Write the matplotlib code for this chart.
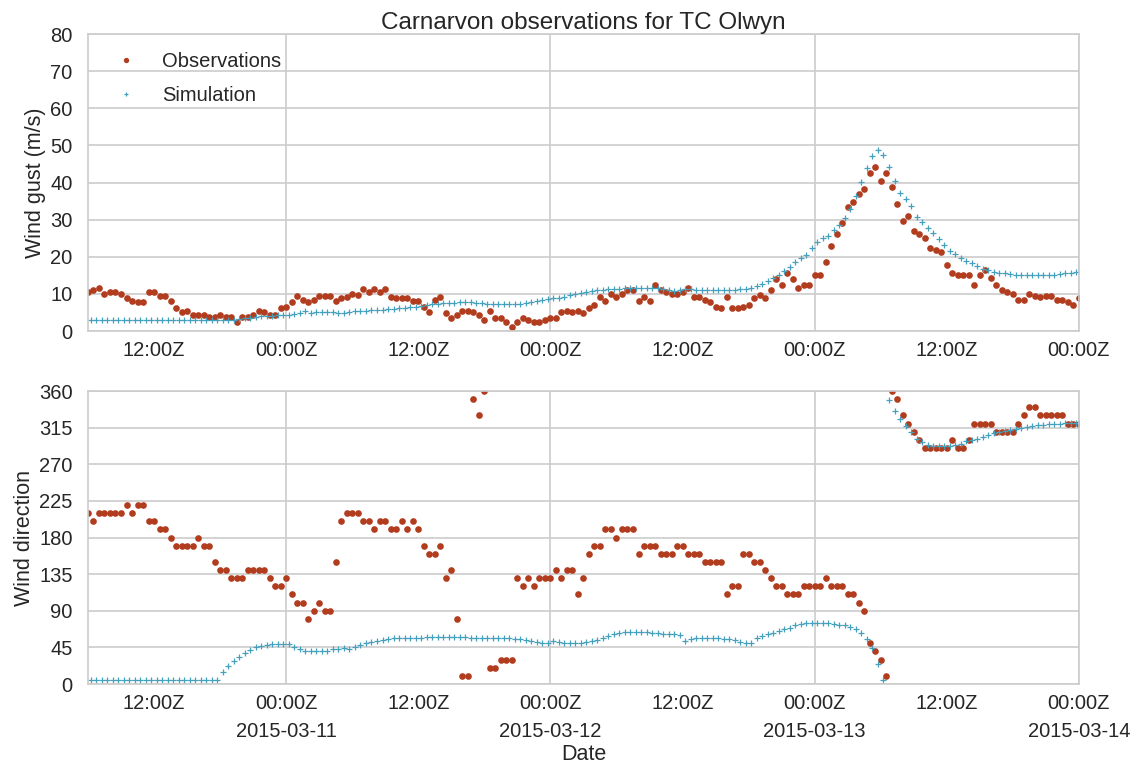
import matplotlib
matplotlib.use("Agg")
import matplotlib.pyplot as plt
import matplotlib.dates as mdates
import pandas as pd

# ---- data -------------------------------------------------------------
obs_start = "2015-03-10 06:00"
sim_start = "2015-03-10 06:15"
x_end = "2015-03-14 00:00"

obs_gust = [
    10.6, 11.0, 11.7, 10.1, 10.6, 10.6, 10.1, 8.9, 8.2, 7.7, 7.7, 10.6, 10.6, 9.4, 9.4, 8.2,
    6.1, 5.0, 5.5, 4.4, 4.4, 4.4, 3.8, 3.8, 4.4, 3.8, 3.8, 2.4, 3.8, 3.8, 4.4, 5.5, 5.0, 4.4,
    4.4, 6.1, 6.4, 7.7, 9.4, 8.4, 7.7, 8.4, 9.4, 9.4, 9.4, 8.2,
    9.0, 9.2, 10.0, 9.8, 11.2, 10.6, 11.2, 10.6, 11.2, 9.2, 8.9, 8.9, 8.9, 8.2, 8.2, 6.4,
    5.2, 8.4, 9.2, 4.9, 3.6, 4.3, 5.4, 5.4, 5.2, 4.3, 3.1, 5.4, 3.6, 3.6, 2.4, 1.0, 2.4, 3.6,
    3.1, 2.4, 2.4, 3.1, 3.6, 3.6, 5.2, 5.4, 5.2, 5.4,
    4.9, 6.1, 7.0, 9.1, 8.2, 10.0, 9.2, 10.0, 11.0, 11.0, 8.2, 9.2, 8.2, 12.3, 11.0, 10.6,
    10.0, 10.0, 10.6, 11.7, 9.2, 9.2, 8.4, 7.7, 6.4, 6.1, 9.2, 6.1, 6.1, 6.4, 7.0, 8.8, 9.8,
    8.8, 11.0, 14.0,
    12.4, 15.7, 13.9, 11.6, 12.4, 12.5, 15.1, 15.1, 18.5, 23.0, 26.2, 29.1, 33.5, 34.8, 36.9,
    38.2, 42.5, 44.1, 40.3, 42.7, 38.7, 34.2, 29.6, 30.9, 26.9, 26.2, 25.1, 22.4, 21.8, 21.2,
    17.7, 15.7, 15.1, 15.1, 15.1, 12.5, 15.1, 16.4, 14.4, 12.5, 11.0, 10.5, 10.0, 8.3, 8.3,
    10.0, 9.4, 9.2, 9.4, 9.4, 8.3, 8.3, 7.7, 7.1, 8.9,
]

sim_gust = [
    3.1, 3.1, 3.1, 3.1, 3.1, 3.1, 3.1, 3.1, 3.1, 3.1, 3.1, 3.1, 3.1, 3.1, 3.1, 3.1, 3.1, 3.1,
    3.1, 3.1, 3.1, 3.1, 3.1, 3.1, 3.1, 3.1, 3.1,
    3.3, 3.6, 3.6, 3.8, 4.0, 4.0, 4.0, 4.2, 4.2, 4.3, 4.7, 4.9, 5.4, 4.9, 5.0, 5.0, 5.0, 5.2,
    4.9, 4.8, 5.2, 5.4, 5.5, 5.5, 5.6, 5.7, 5.8, 5.9, 6.0, 6.1, 6.3, 6.5, 6.6, 6.8, 7.0, 7.2,
    7.4, 7.5, 7.6, 7.6, 7.7, 7.7, 7.7, 7.6, 7.5, 7.4, 7.3, 7.2, 7.2, 7.2, 7.3, 7.4, 7.5, 7.7,
    8.0, 8.3, 8.6, 8.9, 9.0, 9.3, 9.6, 9.9, 10.2,
    10.5, 10.8, 11.0, 11.0, 11.2, 11.3, 11.4, 11.5, 11.5, 11.6, 11.7, 11.7, 11.7, 11.6, 11.3,
    11.0, 10.8, 11.0, 11.3, 11.3, 11.0, 11.0, 11.0, 11.0, 11.0, 11.0, 11.0, 11.1, 11.2, 11.4,
    11.6, 12.0, 12.8, 13.6, 14.4, 15.2,
    16.2, 17.3, 18.5, 19.6, 20.5, 22.5, 23.9, 25.0, 25.7, 27.1, 28.6, 30.5, 33.0, 36.3, 40.1,
    43.9, 47.1, 48.7, 47.5, 44.1, 40.5, 37.1, 35.5, 33.6, 30.7, 29.4, 27.8, 26.4, 24.8, 23.3,
    21.6, 20.7, 19.8, 18.9, 18.2, 17.4, 16.8, 16.4, 16.0, 15.7, 15.5, 15.3, 15.2, 15.1, 15.1,
    15.1, 15.1, 15.1, 15.1, 15.2, 15.3, 15.5, 15.7, 16.0,
]

obs_dir = [
    210, 200, 210, 210, 210, 210, 210, 220, 210, 220, 220, 200, 200, 190, 190, 180, 170, 170,
    170, 170, 180, 170, 170, 150, 140, 140, 130, 130, 130, 140, 140, 140, 140, 130, 120, 120,
    130, 110, 100, 100, 80, 90, 100, 90, 90, 150,
    200, 210, 210, 210, 200, 200, 190, 200, 200, 190, 190, 200, 190, 200, 190, 170, 160, 160,
    170, 130, 140, 80, 10, 10, 350, 330, 360, 20, 20, 30, 30, 30, 130, 120, 130, 120, 130, 130,
    130, 140, 130, 140, 140, 110,
    130, 160, 170, 170, 190, 190, 180, 190, 190, 190, 160, 170, 170, 170, 160, 160, 160, 170,
    170, 160, 160, 160, 150, 150, 150, 150, 110, 120, 120, 160, 160, 150, 150, 140, 130, 120,
    120, 110, 110, 110, 120, 120, 120, 120, 130, 120, 120, 120, 110, 110, 100, 90, 50, 40, 30,
    10, 360, 350, 330, 320, 310, 300, 290, 290, 290, 290, 290, 300, 290, 290, 300, 320, 320,
    320, 320, 310, 310, 310, 310, 320, 330, 340, 340, 330, 330, 330, 330, 330, 320, 320, 320,
]

sim_dir = [
    5, 5, 5, 5, 5, 5, 5, 5, 5, 5, 5, 5, 5, 5, 5, 5, 5, 5, 5, 5, 5, 5, 5, 5,
    15, 22, 28, 33, 38, 42, 45, 47, 48, 49, 49, 49, 49, 45, 43, 40, 41, 41, 41, 41, 43,
    43, 44, 43, 46, 48, 50, 52, 53, 54, 55, 56, 57, 57, 57, 57, 57, 58, 58, 58, 58, 58, 58,
    58, 58, 57, 57, 57, 57, 56, 56, 56, 56, 55, 55, 54, 53, 52, 51, 50, 53, 52, 51, 50, 50, 50,
    52, 53, 54, 56, 59, 61, 63, 64, 64, 64, 64, 64, 63, 63, 62, 62, 61, 60, 53, 55, 56, 57,
    57, 57, 56, 55, 55, 54, 52, 51, 50, 57, 59, 61, 63, 65,
    67, 69, 72, 74, 75, 75, 75, 75, 75, 74, 73, 72, 70, 67, 63, 55, 44, 25, 5, 349, 336, 326,
    317, 310, 301, 297, 294, 292, 292, 292, 292, 294, 295, 298, 300, 301, 304, 306, 308, 310,
    311, 312, 313, 315, 316, 317, 318, 318, 319, 320, 320, 321, 321, 321,
]

gust_ticks = [0, 10, 20, 30, 40, 50, 60, 70, 80]
dir_ticks = [0, 45, 90, 135, 180, 225, 270, 315, 360]

obs_time = pd.date_range(obs_start, periods=len(obs_gust), freq="30min")
sim_time = pd.date_range(sim_start, periods=len(sim_gust), freq="30min")

# ---- style ------------------------------------------------------------
plt.rcParams["font.family"] = ["Liberation Sans", "DejaVu Sans"]
plt.rcParams["text.color"] = ".15"
plt.rcParams["axes.labelcolor"] = ".15"
plt.rcParams["xtick.color"] = ".15"
plt.rcParams["ytick.color"] = ".15"

OBS_C = "#b23c1e"
SIM_C = "#45a0bd"

fig = plt.figure(figsize=(11.35, 7.67), dpi=100)
ax1 = fig.add_axes([0.0775, 0.5684, 0.8731, 0.3872])
ax2 = fig.add_axes([0.0775, 0.1082, 0.8731, 0.382])

for ax in (ax1, ax2):
    ax.set_facecolor("white")
    for sp in ax.spines.values():
        sp.set_color(".8")
        sp.set_linewidth(1.2)
    ax.set_axisbelow(True)
    ax.grid(True, which="major", color=".8", linewidth=1.2)
    ax.grid(False, which="minor")
    ax.tick_params(axis="both", which="both", length=0, labelsize=14.5)
    ax.tick_params(axis="x", which="both", pad=7)
    ax.tick_params(axis="y", pad=11)
    ax.xaxis.set_major_locator(mdates.DayLocator())
    ax.xaxis.set_minor_locator(mdates.HourLocator(byhour=[12]))
    ax.xaxis.set_minor_formatter(mdates.DateFormatter("%H:%MZ"))
    ax.set_xlim(pd.Timestamp(obs_start), pd.Timestamp(x_end))

ax1.plot(obs_time, obs_gust, "o", color=OBS_C, ms=4.8, mew=0, label="Observations")
ax1.plot(sim_time, sim_gust, "+", color=SIM_C, ms=4.4, mew=0.9, label="Simulation")
ax1.set_ylim(0, 80)
ax1.set_yticks(gust_ticks)
ax1.xaxis.set_major_formatter(mdates.DateFormatter("%H:%MZ"))
ax1.set_ylabel("Wind gust (m/s)", fontsize=15.5, labelpad=3)
ax1.set_title("Carnarvon observations for TC Olwyn", fontsize=17.5, pad=2)
ax1.legend(loc="upper left", frameon=False, fontsize=14.5, markerscale=0.8,
           numpoints=1, labelspacing=0.75)

ax2.plot(obs_time, obs_dir, "o", color=OBS_C, ms=4.8, mew=0)
ax2.plot(sim_time, sim_dir, "+", color=SIM_C, ms=4.4, mew=0.9)
ax2.set_ylim(0, 360)
ax2.set_yticks(dir_ticks)
ax2.xaxis.set_major_formatter(mdates.DateFormatter("%H:%MZ\n%Y-%m-%d"))
ax2.set_ylabel("Wind direction", fontsize=15.5, labelpad=3)
ax2.set_xlabel("Date", fontsize=15.5, labelpad=2)
for lab in ax2.get_xticklabels(which="major"):
    lab.set_linespacing(1.6)

fig.savefig("out.png", dpi=100)
